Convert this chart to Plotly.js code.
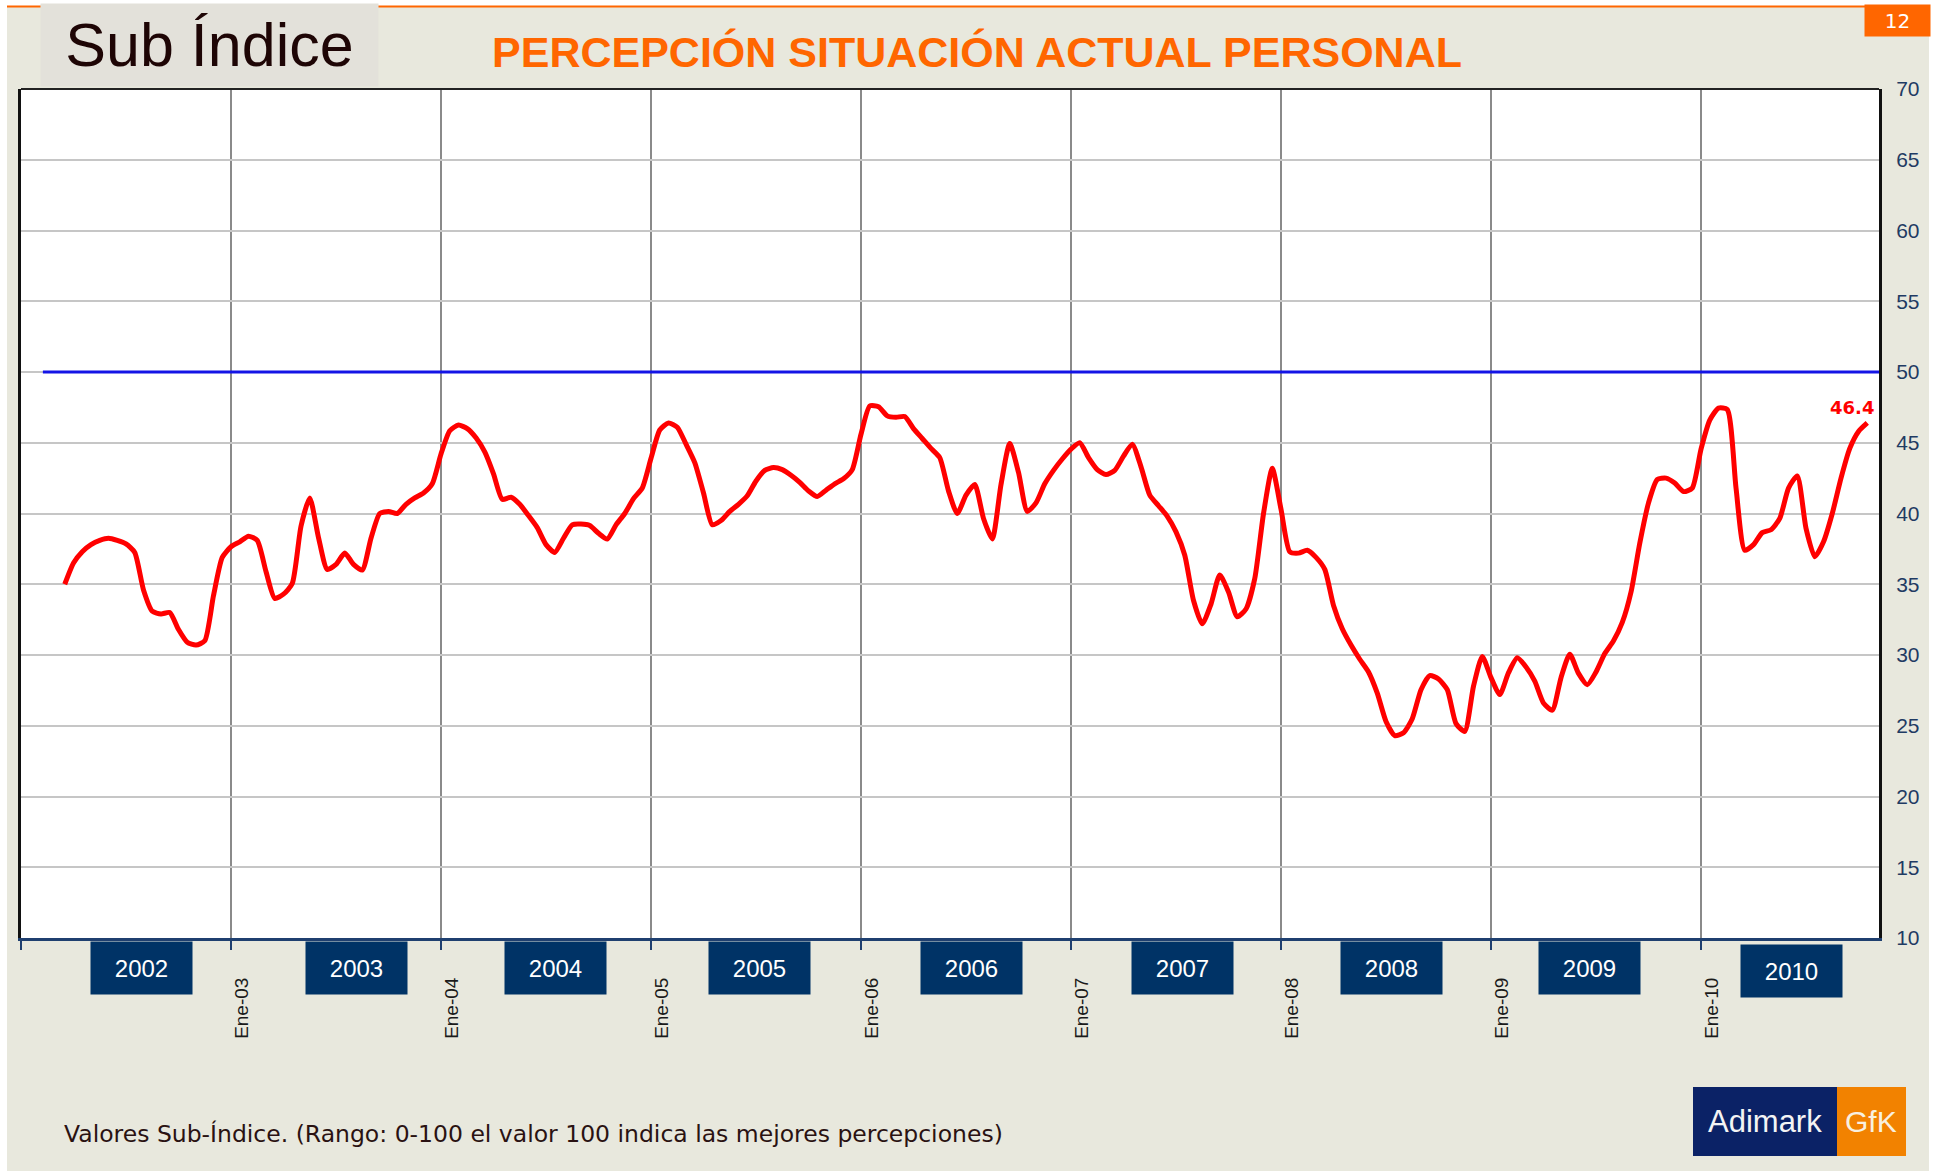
<!DOCTYPE html>
<html><head><meta charset="utf-8">
<script src="https://cdn.plot.ly/plotly-3.0.1.min.js"></script>
<style>
html,body{margin:0;padding:0;background:#fff;overflow:hidden;}
#fondo{position:absolute;left:7px;top:7px;width:1922px;height:1164px;background:#e8e8dd;}
#chart{position:absolute;left:0;top:0;width:1937px;height:1171px;}
</style></head><body>
<div id="fondo"></div><div id="chart"></div>
<script>
// ---- Datos (valores del Sub Índice, lecturas cada medio mes desde marzo 2002) ----
const valores2002 = [35.0, 36.5, 37.3, 37.8, 38.1, 38.25, 38.1, 37.85, 37.25, 34.6, 33.1, 32.9, 33.0, 31.8, 30.9, 30.7, 31.0, 34.2, 36.9];
const valores2003 = [37.65, 38.0, 38.4, 38.1, 35.9, 34.0, 34.3, 35.05, 39.1, 41.1, 38.3, 36.05, 36.4, 37.2, 36.4, 36.0, 38.25, 40.0, 40.15, 40.0, 40.65, 41.1, 41.45, 42.1];
const valores2004 = [44.2, 45.85, 46.25, 46.0, 45.35, 44.35, 42.8, 41.0, 41.15, 40.65, 39.85, 39.0, 37.8, 37.25, 38.25, 39.2, 39.25, 39.15, 38.6, 38.2, 39.2, 40.0, 41.05, 41.8];
const valores2005 = [43.9, 45.9, 46.4, 46.1, 44.9, 43.6, 41.45, 39.2, 39.5, 40.15, 40.65, 41.25, 42.3, 43.05, 43.25, 43.1, 42.7, 42.2, 41.6, 41.2, 41.65, 42.1, 42.45, 43.1];
const valores2006 = [45.6, 47.6, 47.55, 46.9, 46.8, 46.85, 46.0, 45.3, 44.6, 43.95, 41.6, 40.0, 41.3, 42.05, 39.65, 38.2, 42.05, 44.95, 42.9, 40.15, 40.75, 42.1, 43.05, 43.85];
const valores2007 = [44.55, 45.0, 43.95, 43.1, 42.75, 43.05, 44.05, 44.9, 43.3, 41.3, 40.55, 39.8, 38.7, 37.05, 33.85, 32.2, 33.6, 35.65, 34.45, 32.7, 33.25, 35.4, 40.0, 43.2];
const valores2008 = [40.3, 37.3, 37.2, 37.4, 36.9, 36.05, 33.5, 31.85, 30.7, 29.7, 28.8, 27.3, 25.3, 24.3, 24.5, 25.5, 27.55, 28.55, 28.3, 27.55, 25.15, 24.6, 27.8, 29.9];
const valores2009 = [28.4, 27.2, 28.75, 29.8, 29.15, 28.15, 26.6, 26.1, 28.4, 30.05, 28.7, 27.9, 28.8, 30.1, 31.0, 32.3, 34.45, 37.9, 40.75, 42.4, 42.5, 42.15, 41.55, 41.8];
const valores2010 = [44.55, 46.6, 47.45, 47.35, 41.8, 37.4, 37.8, 38.65, 38.85, 39.65, 41.8, 42.65, 38.95, 36.95, 38.0, 40.0, 42.5, 44.6, 45.8, 46.4];
const ultimoValor = 46.4;
const nivelNeutral = 50;
const anios = ['2002', '2003', '2004', '2005', '2006', '2007', '2008', '2009', '2010'];
const etiquetasEne = ['', 'Ene-03', 'Ene-04', 'Ene-05', 'Ene-06', 'Ene-07', 'Ene-08', 'Ene-09', 'Ene-10'];
const tickY = [10, 15, 20, 25, 30, 35, 40, 45, 50, 55, 60, 65, 70];

// ---- Construcción ----
const valores = [].concat(valores2002, valores2003, valores2004, valores2005, valores2006,
  valores2007, valores2008, valores2009, valores2010);
const mesInicio = 2.5, pasoMes = 0.5;           // posición de categoría (meses desde ene-2002)
const periodos = valores.map((v, i) => mesInicio + i * pasoMes);
const tickX = etiquetasEne.map((t, i) => i * 12);

// layout geometry helpers (pixel -> paper)
const W = 1937, H = 1171, L = 21, R = 1879, T = 89, B = 938;
const px = x => (x - L) / (R - L);
const py = y => (B - y) / (B - T);

const cajasAnio = [6.9, 19.15, 30.55, 42.2, 54.3, 66.35, 78.3, 89.65, 101.15];
const navy = '#003366';

const annotations = [];
anios.forEach((a, i) => annotations.push({
  xref: 'x', yref: 'paper', x: cajasAnio[i], y: py(968 + (i === 8 ? 3 : 0)),
  text: a, showarrow: false, width: 101, height: 52, borderpad: 0,
  bgcolor: navy, font: {family: 'Liberation Sans, Arial', size: 24, color: '#ffffff'},
  xanchor: 'center', yanchor: 'middle'
}));
annotations.push({
  xref: 'x', yref: 'y', x: periodos[periodos.length - 1], y: ultimoValor,
  text: '<b>' + ultimoValor.toFixed(1) + '</b>', showarrow: false,
  xanchor: 'right', yanchor: 'bottom', xshift: 9, yshift: 3,
  font: {family: 'DejaVu Sans, Verdana', size: 18, color: '#ff0000'}
});
annotations.push({
  xref: 'paper', yref: 'paper', x: px(209.5), y: py(45), text: 'Sub Índice',
  showarrow: false, width: 337, height: 82, borderpad: 0, bgcolor: '#e3e1da',
  xanchor: 'center', yanchor: 'middle',
  font: {family: 'Liberation Sans, Arial', size: 61, color: '#1e0505'}
});
annotations.push({
  xref: 'paper', yref: 'paper', x: px(1897.5), y: py(20.5), text: '12',
  showarrow: false, width: 65, height: 31, borderpad: 0, bgcolor: '#ff6600',
  xanchor: 'center', yanchor: 'middle',
  font: {family: 'DejaVu Sans, Verdana', size: 20, color: '#ffffff'}
});
annotations.push({
  xref: 'paper', yref: 'paper', x: px(62), y: py(1134),
  text: 'Valores Sub-Índice. (Rango: 0-100 el valor 100 indica las mejores percepciones)',
  showarrow: false, xanchor: 'left', yanchor: 'middle',
  font: {family: 'DejaVu Sans, Verdana', size: 23.5, color: '#2a1212'}
});
annotations.push({
  xref: 'paper', yref: 'paper', x: px(1765), y: py(1121), text: 'Adimark',
  showarrow: false, xanchor: 'center', yanchor: 'middle',
  font: {family: 'Liberation Sans, Arial', size: 31, color: '#f4f4f4'}
});
annotations.push({
  xref: 'paper', yref: 'paper', x: px(1871), y: py(1121), text: 'GfK',
  showarrow: false, xanchor: 'center', yanchor: 'middle',
  font: {family: 'Liberation Sans, Arial', size: 30, color: '#f8f0e0'}
});

const shapes = [
  {type: 'line', xref: 'paper', yref: 'paper', x0: px(7), x1: px(1929), y0: py(6.5), y1: py(6.5),
   line: {color: '#ff6600', width: 2}},
  {type: 'line', xref: 'x', yref: 'y', x0: 1.25, x1: 106.17, y0: nivelNeutral, y1: nivelNeutral,
   line: {color: '#1414e6', width: 3}},
  {type: 'line', xref: 'paper', yref: 'paper', x0: 0, x1: 1, y0: 1, y1: 1,
   line: {color: '#222222', width: 2}},
  {type: 'rect', xref: 'paper', yref: 'paper', x0: px(1693), x1: px(1837), y0: py(1087), y1: py(1156),
   line: {width: 0}, fillcolor: '#0b2266', layer: 'below'},
  {type: 'rect', xref: 'paper', yref: 'paper', x0: px(1837), x1: px(1906), y0: py(1087), y1: py(1156),
   line: {width: 0}, fillcolor: '#f28200', layer: 'below'}
];

const traces = [{
  type: 'scatter', mode: 'lines', x: periodos, y: valores,
  line: {color: '#ff0000', width: 5, shape: 'spline', smoothing: 0.6},
  hoverinfo: 'y', showlegend: false
}];

const layout = {
  width: W, height: H,
  margin: {l: L, r: W - R, t: T, b: H - B, pad: 0},
  paper_bgcolor: 'rgba(0,0,0,0)', plot_bgcolor: '#ffffff',
  showlegend: false,
  title: {
    text: 'PERCEPCIÓN SITUACIÓN ACTUAL PERSONAL', xref: 'container', yref: 'container',
    x: 977 / W, y: 1 - 52 / H, xanchor: 'center', yanchor: 'middle',
    font: {family: 'Liberation Sans, Arial', size: 43, color: '#ff6600', weight: 'bold'}
  },
  xaxis: {
    range: [0, 106.17], tickmode: 'array', tickvals: tickX, ticktext: etiquetasEne,
    tickangle: -90, ticks: 'outside', ticklen: 9, tickwidth: 2, tickcolor: '#1f3f6f',
    ticklabelstandoff: 20, ticklabelshift: 11,
    tickfont: {family: 'Liberation Sans, Arial', size: 19, color: '#1a1a1a'},
    showgrid: true, gridcolor: '#8a8a8a', gridwidth: 1.5,
    showline: true, linecolor: '#1f3f6f', linewidth: 3, zeroline: false, fixedrange: true
  },
  yaxis: {
    range: [10, 70], tickmode: 'array', tickvals: tickY, side: 'right',
    ticks: '', ticklabelstandoff: 10,
    tickfont: {family: 'Liberation Sans, Arial', size: 21, color: '#1f3b63'},
    showgrid: true, gridcolor: '#c6c6c6', gridwidth: 2,
    showline: true, mirror: true, linecolor: '#111111', linewidth: 3,
    zeroline: false, fixedrange: true
  },
  annotations: annotations,
  shapes: shapes
};

Plotly.newPlot('chart', traces, layout, {displayModeBar: false, staticPlot: true});
</script></body></html>
